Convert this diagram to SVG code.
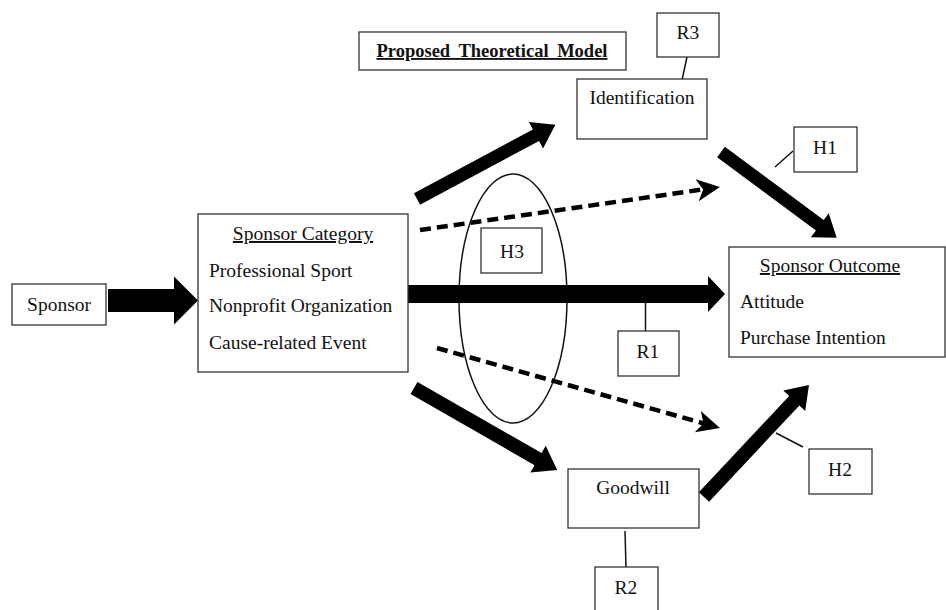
<svg xmlns="http://www.w3.org/2000/svg" width="946" height="610" viewBox="0 0 946 610">
<style>
.box{fill:#fff;stroke:#333;stroke-width:1.3}
.t{font-family:"Liberation Serif","Times New Roman",serif;font-size:19.5px;fill:#111}
.c{text-anchor:middle}
.u{text-decoration:underline}
.ln{stroke:#111;stroke-width:1.5;fill:none}
.ar{fill:#000}
.dash{stroke:#000;stroke-width:4.5;stroke-dasharray:11 6;fill:none}
</style>
<rect width="946" height="610" fill="#fff"/>
<g id="title"><rect class="box" x="359" y="32" width="267" height="38"/><text class="t c u" x="492" y="57" style="font-weight:bold;font-size:18.5px;word-spacing:4px">Proposed Theoretical Model</text></g>
<g id="connectors">
<g id="ellipse-h3"><ellipse cx="513" cy="298.5" rx="54" ry="124.5" fill="none" stroke="#111" stroke-width="1.5"/></g>
<polygon class="ar" transform="translate(108,300.5)" points="0,-11.5 66,-11.5 66,-24 90,0 66,24 66,11.5 0,11.5"/>
<polygon class="ar" transform="translate(417,199) rotate(-28.2)" points="0,-6.5 135,-6.5 135,-15 157,0 135,15 135,6.5 0,6.5"/>
<polygon class="ar" transform="translate(721,152) rotate(36.55)" points="0,-6.5 123,-6.5 123,-15 144,0 123,15 123,6.5 0,6.5"/>
<polygon class="ar" transform="translate(408,294)" points="0,-9 300,-9 300,-18 317,0 300,18 300,9 0,9"/>
<polygon class="ar" transform="translate(414,388) rotate(29.83)" points="0,-7 143,-7 143,-15.5 165,0 143,15.5 143,7 0,7"/>
<polygon class="ar" transform="translate(704,497) rotate(-46.85)" points="0,-7 132,-7 132,-15 153.5,0 132,15 132,7 0,7"/>
<g transform="translate(420,230) rotate(-8.16)"><line class="dash" x1="0" y1="0" x2="287" y2="0"/><polygon class="ar" points="303,0 280,-11 286,0 280,11"/></g>
<g transform="translate(437,348) rotate(15.78)"><line class="dash" x1="0" y1="0" x2="278" y2="0"/><polygon class="ar" points="294,0 271,-11 277,0 271,11"/></g>
<line class="ln" x1="687" y1="57" x2="682" y2="80"/>
<line class="ln" x1="775" y1="167" x2="793" y2="151"/>
<line class="ln" x1="645.5" y1="303" x2="645.5" y2="331"/>
<line class="ln" x1="776" y1="433" x2="803" y2="447"/>
<line class="ln" x1="625" y1="531" x2="626" y2="567"/>
</g>
<g id="sponsor"><rect class="box" x="12" y="284" width="94" height="41"/><text class="t c" x="59" y="311">Sponsor</text></g>
<g id="sponsor-category"><rect class="box" x="198" y="214" width="210" height="158"/>
<text class="t c u" x="303" y="240">Sponsor Category</text>
<text class="t" x="209" y="277">Professional Sport</text>
<text class="t" x="209" y="312">Nonprofit Organization</text>
<text class="t" x="209" y="349">Cause-related Event</text></g>
<g id="identification"><rect class="box" x="577" y="79" width="130" height="60"/><text class="t c" x="642" y="104">Identification</text></g>
<g id="r3"><rect class="box" x="657" y="13" width="62" height="44"/><text class="t c" x="688" y="39">R3</text></g>
<g id="h1"><rect class="box" x="794" y="127" width="63" height="45"/><text class="t c" x="825" y="154">H1</text></g>
<g id="h3"><rect class="box" x="481" y="228" width="61" height="45"/><text class="t c" x="512" y="258">H3</text></g>
<g id="sponsor-outcome"><rect class="box" x="729" y="247" width="216" height="110"/>
<text class="t c u" x="830" y="272">Sponsor Outcome</text>
<text class="t" x="740" y="308">Attitude</text>
<text class="t" x="740" y="344">Purchase Intention</text></g>
<g id="r1"><rect class="box" x="618" y="331" width="61" height="45"/><text class="t c" x="648" y="358">R1</text></g>
<g id="goodwill"><rect class="box" x="568" y="469" width="131" height="59"/><text class="t c" x="633" y="494">Goodwill</text></g>
<g id="h2"><rect class="box" x="809" y="449" width="63" height="45"/><text class="t c" x="840" y="476">H2</text></g>
<g id="r2"><rect class="box" x="595" y="567" width="63" height="46"/><text class="t c" x="626" y="594">R2</text></g>
</svg>
